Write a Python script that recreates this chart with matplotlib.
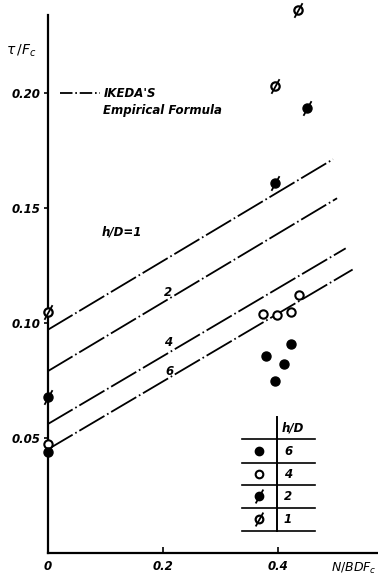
import matplotlib
matplotlib.use("Agg")
import matplotlib.pyplot as plt
from matplotlib.path import Path
import numpy as np

plt.rcParams['font.family'] = ['DejaVu Sans']
plt.rcParams['lines.scale_dashes'] = False

# IKEDA'S empirical formula lines: tau/Fc = a + b * N/BDFc
hd_lines = ["1", "2", "4", "6"]
line_a = [0.097, 0.079, 0.056, 0.045]
line_b = [0.150, 0.150, 0.148, 0.148]
line_xend = [0.495, 0.502, 0.517, 0.529]
line_labels = ["h/D=1", "2", "4", "6"]
label_x = [0.128, 0.209, 0.209, 0.212]
label_y = [0.1395, 0.1135, 0.0915, 0.0790]

# test results
x_hd1 = [0.0, 0.395, 0.434]
y_hd1 = [0.105, 0.203, 0.236]
x_hd2 = [0.0, 0.395, 0.450]
y_hd2 = [0.068, 0.161, 0.1935]
x_hd4 = [0.0, 0.374, 0.398, 0.422, 0.436]
y_hd4 = [0.0475, 0.104, 0.1035, 0.105, 0.112]
x_hd6 = [0.0, 0.379, 0.395, 0.410, 0.422]
y_hd6 = [0.044, 0.0857, 0.075, 0.082, 0.091]

slash = Path([(-0.55, -1.0), (0.55, 1.0)], [Path.MOVETO, Path.LINETO])
dashdot = (21, 2.2, 1.2, 2.2)

fig = plt.figure(figsize=(3.78, 5.77), dpi=100)
ax = fig.add_axes([0.1257, 0.0416, 0.8743, 0.9324])
ax.set_xlim(0, 0.573)
ax.set_ylim(0, 0.234)

for a, b, xe in zip(line_a, line_b, line_xend):
    xs = np.array([0.0, xe])
    ax.plot(xs, a + b * xs, color='black', lw=1.3, dashes=dashdot)

for t, lx, ly in zip(line_labels, label_x, label_y):
    ax.text(lx, ly, t, fontsize=8.5, style='italic', fontweight='bold',
            ha='center', va='center')

def draw_points(xs, ys, kind, ms=6.5):
    kw = dict(ls='none', clip_on=False, zorder=5)
    if kind == 'filled':
        ax.plot(xs, ys, 'o', ms=ms, mfc='black', mec='black', **kw)
    elif kind == 'open':
        ax.plot(xs, ys, 'o', ms=ms - 0.5, mfc='white', mec='black', mew=1.5, **kw)
    elif kind == 'half':
        ax.plot(xs, ys, 'o', ms=ms, mfc='black', mec='black', **kw)
        ax.plot(xs, ys, marker=slash, ms=ms + 4, mec='black', mew=1.3, **kw)
    else:
        ax.plot(xs, ys, 'o', ms=ms - 0.5, mfc='white', mec='black', mew=1.6, **kw)
        ax.plot(xs, ys, marker=slash, ms=ms + 4, mec='black', mew=1.3, **kw)

draw_points(x_hd1, y_hd1, 'slash')
draw_points(x_hd2, y_hd2, 'half')
draw_points(x_hd4, y_hd4, 'open')
draw_points(x_hd6, y_hd6, 'filled')

# legend for the formula lines
ax.plot([0.022, 0.091], [0.200, 0.200], color='black', lw=1.3, dashes=(9, 2, 1.2, 2))
ax.text(0.097, 0.200, "IKEDA'S", fontsize=8.5, style='italic', fontweight='bold',
        ha='left', va='center')
ax.text(0.097, 0.1925, "Empirical Formula", fontsize=8.5, style='italic',
        fontweight='bold', ha='left', va='center')

# h/D marker table
tab_x0, tab_x1, tab_xv = 0.337, 0.464, 0.398
row_y = [0.0496, 0.0391, 0.0296, 0.0196, 0.0096]
for yy in row_y:
    ax.plot([tab_x0, tab_x1], [yy, yy], color='black', lw=1.2)
ax.plot([tab_xv, tab_xv], [0.059, row_y[-1]], color='black', lw=1.4)
ax.text(tab_xv + 0.008, 0.0545, "h/D", fontsize=8.5, style='italic',
        fontweight='bold', ha='left', va='center')
kinds = ['filled', 'open', 'half', 'slash']
for i, (k, t) in enumerate(zip(kinds, ["6", "4", "2", "1"])):
    yc = (row_y[i] + row_y[i + 1]) / 2
    draw_points([0.3666], [yc], k, ms=6)
    ax.text(tab_xv + 0.012, yc, t, fontsize=8.5, style='italic',
            fontweight='bold', ha='left', va='center')

for s in ['top', 'right']:
    ax.spines[s].set_visible(False)
for s in ['left', 'bottom']:
    ax.spines[s].set_linewidth(1.6)

ax.set_xticks([0, 0.2, 0.4])
ax.set_xticklabels(["0", "0.2", "0.4"])
ax.set_yticks([0.05, 0.10, 0.15, 0.20])
ax.set_yticklabels(["0.05", "0.10", "0.15", "0.20"])
ax.tick_params(axis='x', direction='in', length=4, width=1.2, pad=5)
ax.tick_params(axis='y', direction='out', length=3, width=1.2, pad=2)
for lab in ax.get_xticklabels() + ax.get_yticklabels():
    lab.set_fontsize(8.5)
    lab.set_style('italic')
    lab.set_fontweight('bold')

ax.text(-0.046, 0.2185, r'$\tau\,/F_c$', fontsize=10, ha='center', va='center')
ax.text(0.570, -0.0068, r'$N/BDF_c$', fontsize=9, ha='right', va='center')

fig.savefig("out.png", dpi=100)
